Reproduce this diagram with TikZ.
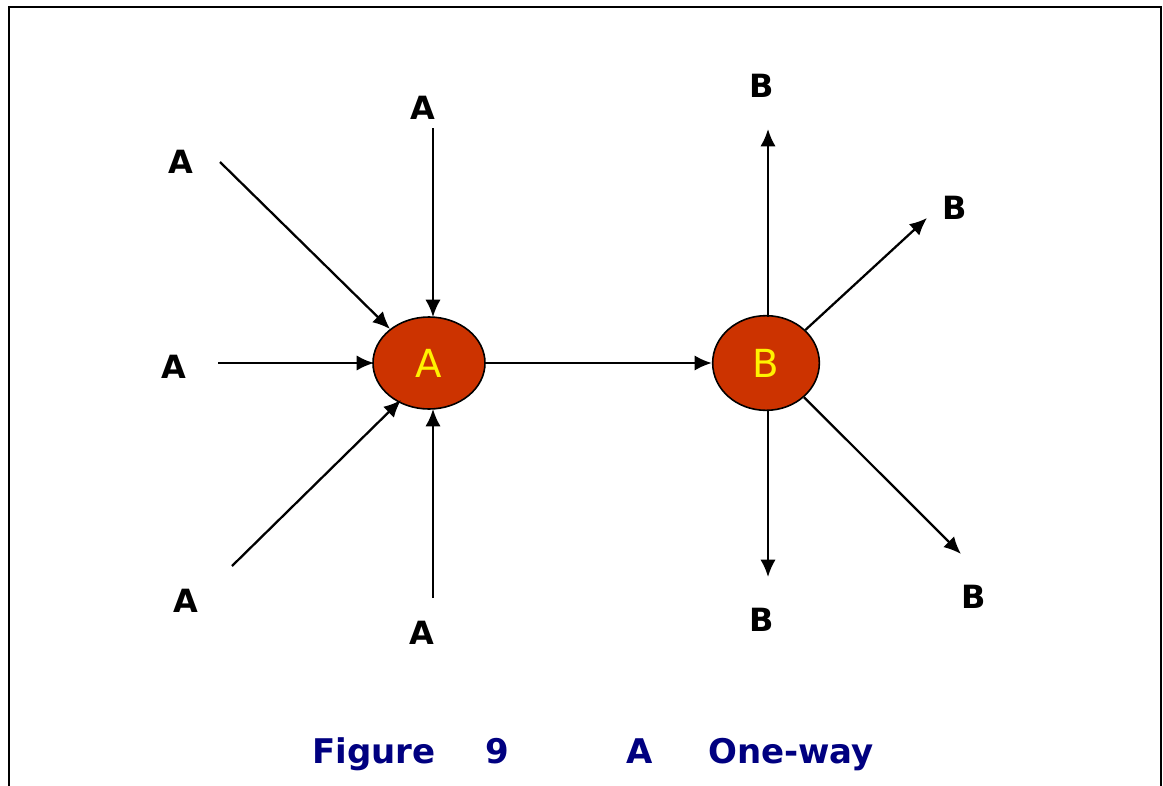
\documentclass[tikz,border=0pt]{standalone}
\usepackage{fontspec}
\setmainfont{DejaVu Sans}
\usetikzlibrary{arrows.meta,shapes.geometric}
\definecolor{blobred}{HTML}{CC3300}
\definecolor{capblue}{HTML}{000080}
\begin{document}
\begin{tikzpicture}[x=0.75pt,y=-0.75pt,
  conn/.style={line width=1.7pt,-{Latex[length=13pt,width=11.5pt]}},
  blob/.style={ellipse,draw,line width=1.2pt,fill=blobred,text=yellow,font=\fontsize{29}{31}\selectfont,minimum width=84pt,minimum height=69pt,inner sep=0pt},
  lab/.style={font=\bfseries\fontsize{24}{26}\selectfont,inner sep=0pt},
  captext/.style={font=\bfseries\fontsize{25.5}{30}\selectfont,text=capblue,inner sep=0pt,anchor=base}]
\useasboundingbox (0,0) rectangle (1163,785);
\draw[line width=1.5pt] (9,830) -- (9,7) -- (1161,7) -- (1161,830);
\node[blob] (A) at (429,363) {A};
\node[blob,minimum width=80pt,minimum height=71pt] (B) at (766,363) {B};
% sources
\node[lab] (a1) at (181,162) {A};
\node[lab] (a2) at (423,108) {A};
\node[lab] (a3) at (174,367) {A};
\node[lab] (a4) at (186,601) {A};
\node[lab] (a5) at (422,633) {A};
\node[lab] (b1) at (762,86) {B};
\node[lab] (b2) at (955,208) {B};
\node[lab] (b3) at (762,620) {B};
\node[lab] (b4) at (974,597) {B};
\coordinate (s1) at (220,162); \coordinate (e1) at (390,329);
\coordinate (s2) at (433,128); \coordinate (e2) at (433,317);
\coordinate (s3) at (218,363); \coordinate (e3) at (374,363);
\coordinate (s4) at (232,566); \coordinate (e4) at (401,400);
\coordinate (s5) at (433,598); \coordinate (e5) at (433,409);
\draw[conn] (s1) -- (e1);
\draw[conn] (s2) -- (e2);
\draw[conn] (s3) -- (e3);
\draw[conn] (s4) -- (e4);
\draw[conn] (s5) -- (e5);
\draw[conn] (A.east) -- (B.west);
\coordinate (t1) at (768,129); \coordinate (t2) at (927,218);
\coordinate (t3) at (768,577); \coordinate (t4) at (961,554);
\draw[conn] (768,317) -- (t1);
\draw[conn] (B.40) -- (t2);
\draw[conn] (768,410) -- (t3);
\draw[conn] (B.-42) -- (t4);
\node[captext] (c1) at (374,763) {Figure};
\node[captext] (c2) at (497,763) {9};
\node[captext] (c3) at (640,763) {A};
\node[captext] (c4) at (791,763) {One-way};
\end{tikzpicture}
\end{document}
